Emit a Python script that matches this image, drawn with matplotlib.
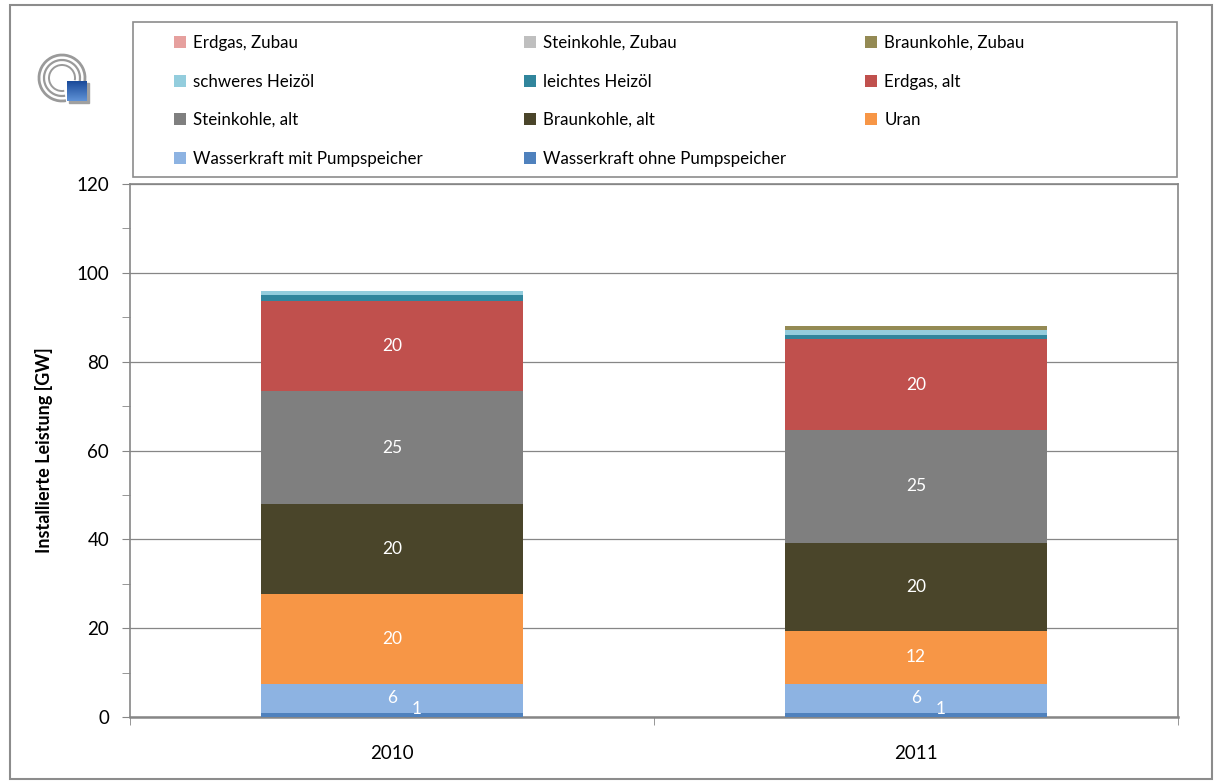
import matplotlib
matplotlib.use('Agg')
import matplotlib.pyplot as plt
import numpy as np
from matplotlib.patches import Rectangle, Arc

plt.rcParams['font.family'] = ['Lato', 'DejaVu Sans']

# Installierte Leistung je Energietraeger [GW]
years = ['2010', '2011']
wasser_ohne = [1.0, 1.0]
wasser_mit = [6.4, 6.4]
uran = [20.4, 12.0]
braun_alt = [20.1, 19.8]
stein_alt = [25.4, 25.4]
erdgas_alt = [20.4, 20.4]
heizoel_leicht = [1.3, 1.1]
heizoel_schwer = [0.9, 1.0]
braun_zubau = [0.0, 0.9]
stein_zubau = [0.0, 0.0]
erdgas_zubau = [0.0, 0.0]

# Reihenfolge von unten nach oben
series = [
    ('Wasserkraft ohne Pumpspeicher', wasser_ohne, '#4F81BD', True),
    ('Wasserkraft mit Pumpspeicher', wasser_mit, '#8DB3E2', True),
    ('Uran', uran, '#F79646', True),
    ('Braunkohle, alt', braun_alt, '#4A452A', True),
    ('Steinkohle, alt', stein_alt, '#7F7F7F', True),
    ('Erdgas, alt', erdgas_alt, '#C0504D', True),
    ('leichtes Heizöl', heizoel_leicht, '#31859C', False),
    ('schweres Heizöl', heizoel_schwer, '#93CDDD', False),
    ('Braunkohle, Zubau', braun_zubau, '#948A54', False),
    ('Steinkohle, Zubau', stein_zubau, '#BFBFBF', False),
    ('Erdgas, Zubau', erdgas_zubau, '#E6A09E', False),
]

grey = '#868686'
W, H = 1215, 782
fig = plt.figure(figsize=(W / 100, H / 100), dpi=100)

# Rahmen um das ganze Diagramm
fig.patches.append(Rectangle((10 / W, 3 / H), 1202 / W, 774 / H, transform=fig.transFigure,
                             fill=False, edgecolor='#8c8c8c', lw=1.5))

ax = fig.add_axes([130 / W, 65 / H, 1048 / W, 533 / H])
x = np.arange(len(years))
bottom = np.zeros(len(years))
handles = {}
for name, vals, color, labelled in series:
    vals = np.array(vals)
    bars = ax.bar(x, vals, 0.5, bottom=bottom, color=color, zorder=3, label=name)
    handles[name] = bars
    if labelled:
        for xi, v, b in zip(x, vals, bottom):
            if name == 'Wasserkraft ohne Pumpspeicher':
                ax.annotate(f'{v:.0f}', (xi, b + v / 2), xytext=(18, 4), textcoords='offset points',
                            ha='center', va='center', color='white', fontsize=12.5, zorder=5)
            else:
                ax.text(xi, b + v / 2, f'{v:.0f}', ha='center', va='center',
                        color='white', fontsize=12.5, zorder=5)
    bottom = bottom + vals

ax.set_xlim(-0.5, 1.5)
ax.set_ylim(0, 120)
ax.set_yticks(range(0, 121, 20))
ax.set_yticks(range(10, 120, 20), minor=True)
ax.yaxis.grid(True, color=grey, lw=0.9, zorder=0)
ax.set_xticks(x)
ax.set_xticklabels(years)
ax.set_xticks([-0.5, 0.5, 1.5], minor=True)
ax.tick_params(axis='y', which='both', direction='out', length=6, color=grey, labelsize=13.5, pad=9)
ax.tick_params(axis='x', which='major', length=0, labelsize=13.5, pad=20)
ax.tick_params(axis='x', which='minor', direction='out', length=6, color=grey)
for sp in ax.spines.values():
    sp.set_color(grey)
    sp.set_linewidth(1.2)
ax.spines['bottom'].set_linewidth(1.8)
ax.set_ylabel('Installierte Leistung [GW]', fontsize=13, fontweight='bold')
ax.yaxis.set_label_coords(-0.073, 0.5)

# Legende: zeilenweise in drei Spalten mit festen Spaltenpositionen
legend_order = [name for name, _, _, _ in series][::-1]
fig.patches.append(Rectangle((133 / W, 1 - 177 / H), 1044 / W, 155 / H, transform=fig.transFigure,
                             fill=False, edgecolor='#8c8c8c', lw=1.2))
col_x = [174, 524, 865]
for c, cx in enumerate(col_x):
    names = legend_order[c::3]
    fig.legend([handles[n] for n in names], names, ncol=1, frameon=False,
               loc='upper left', bbox_to_anchor=(cx / W, 1 - 35 / H), fontsize=12.2,
               handlelength=0.7, handleheight=0.7, handletextpad=0.45, labelspacing=1.33,
               borderpad=0, borderaxespad=0)

# Logo
lax = fig.add_axes([30 / W, 1 - 112 / H, 70 / W, 70 / H])
lax.set_xlim(30, 100)
lax.set_ylim(112, 42)
lax.axis('off')
for r, lw in [(23, 2.0), (18, 1.6), (13, 1.4)]:
    lax.add_patch(Arc((62, 78), 2 * r, 2 * r, theta1=80, theta2=370, color='#9a9a9a', lw=lw))
lax.add_patch(Rectangle((69, 83), 20, 20, color='#a0a0a0', zorder=3))
grad = np.linspace(0, 1, 50).reshape(-1, 1)
lax.imshow(grad, extent=(67, 87, 101, 81), cmap=matplotlib.colors.LinearSegmentedColormap.from_list(
    'logo', ['#1a4a9a', '#5f92d6']), aspect='auto', zorder=4)

fig.savefig('out.png', dpi=100)
